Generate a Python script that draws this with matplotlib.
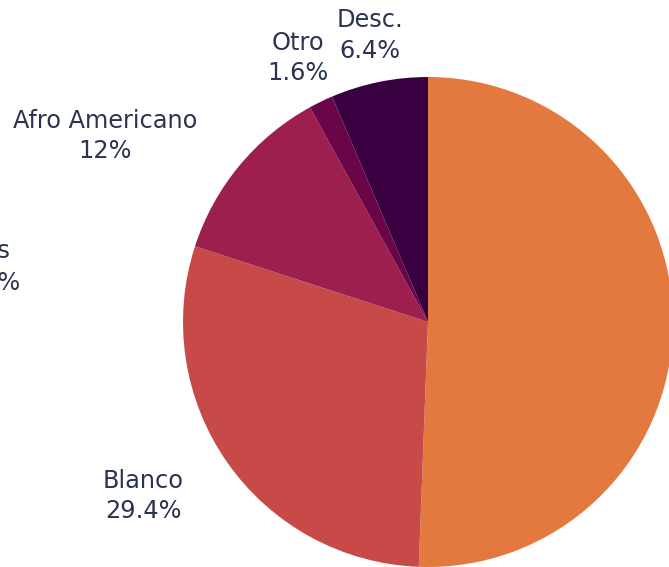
import matplotlib
matplotlib.use("Agg")
import matplotlib.pyplot as plt

# ---- data ----
categories = ["Hispano", "Blanco", "Afro Americano", "Otro", "Desc."]
values = [50.6, 29.4, 12.0, 1.6, 6.4]
pct_labels = ["50.6%", "29.4%", "12%", "1.6%", "6.4%"]
colors = ["#E47940", "#C84A48", "#9D1F4E", "#6A0548", "#380040"]

# partially visible label at the left edge (cut off in the reference)
extra_name = "Asiáticos"
extra_pct = "0%"

# ---- layout (label anchors in pie-radius units); the first slice's label
# lies outside the visible region in the reference, so it is not drawn ----
name_pos = {
    "Blanco": (-1.161, -0.678),
    "Afro Americano": (-1.318, 0.792),
    "Otro": (-0.529, 1.110),
    "Desc.": (-0.237, 1.204),
}
pct_pos = {
    "Blanco": (-1.161, -0.800),
    "Afro Americano": (-1.318, 0.669),
    "Otro": (-0.529, 0.988),
    "Desc.": (-0.237, 1.078),
}
extra_name_pos = (-1.702, 0.261)
extra_pct_pos = (-1.661, 0.131)

W, H = 669, 567
DPI = 100
cx, cy, R = 428, 245, 245  # pixel centre (from bottom) and radius

fig = plt.figure(figsize=(W / DPI, H / DPI), dpi=DPI)
fig.patch.set_facecolor("white")
ax = fig.add_axes([(cx - R) / W, (cy - R) / H, 2 * R / W, 2 * R / H])
ax.pie(values, colors=colors, startangle=90, counterclock=False, radius=1,
       wedgeprops=dict(linewidth=0))
ax.set_xlim(-1, 1)
ax.set_ylim(-1, 1)
ax.set_aspect("auto")
ax.axis("off")

txt_color = "#2A3350"
fs = 17.3
for cat, pct in zip(categories, pct_labels):
    if cat not in name_pos:
        continue
    nx, ny = name_pos[cat]
    px, py = pct_pos[cat]
    ax.text(nx, ny, cat, ha="center", va="baseline", fontsize=fs,
            color=txt_color, family="DejaVu Sans", clip_on=False)
    ax.text(px, py, pct, ha="center", va="baseline", fontsize=fs,
            color=txt_color, family="DejaVu Sans", clip_on=False)

ax.text(*extra_name_pos, extra_name, ha="right", va="baseline", fontsize=fs,
        color=txt_color, family="DejaVu Sans", clip_on=False)
ax.text(*extra_pct_pos, extra_pct, ha="right", va="baseline", fontsize=fs,
        color=txt_color, family="DejaVu Sans", clip_on=False)

fig.savefig("out.png", dpi=DPI, facecolor="white")
